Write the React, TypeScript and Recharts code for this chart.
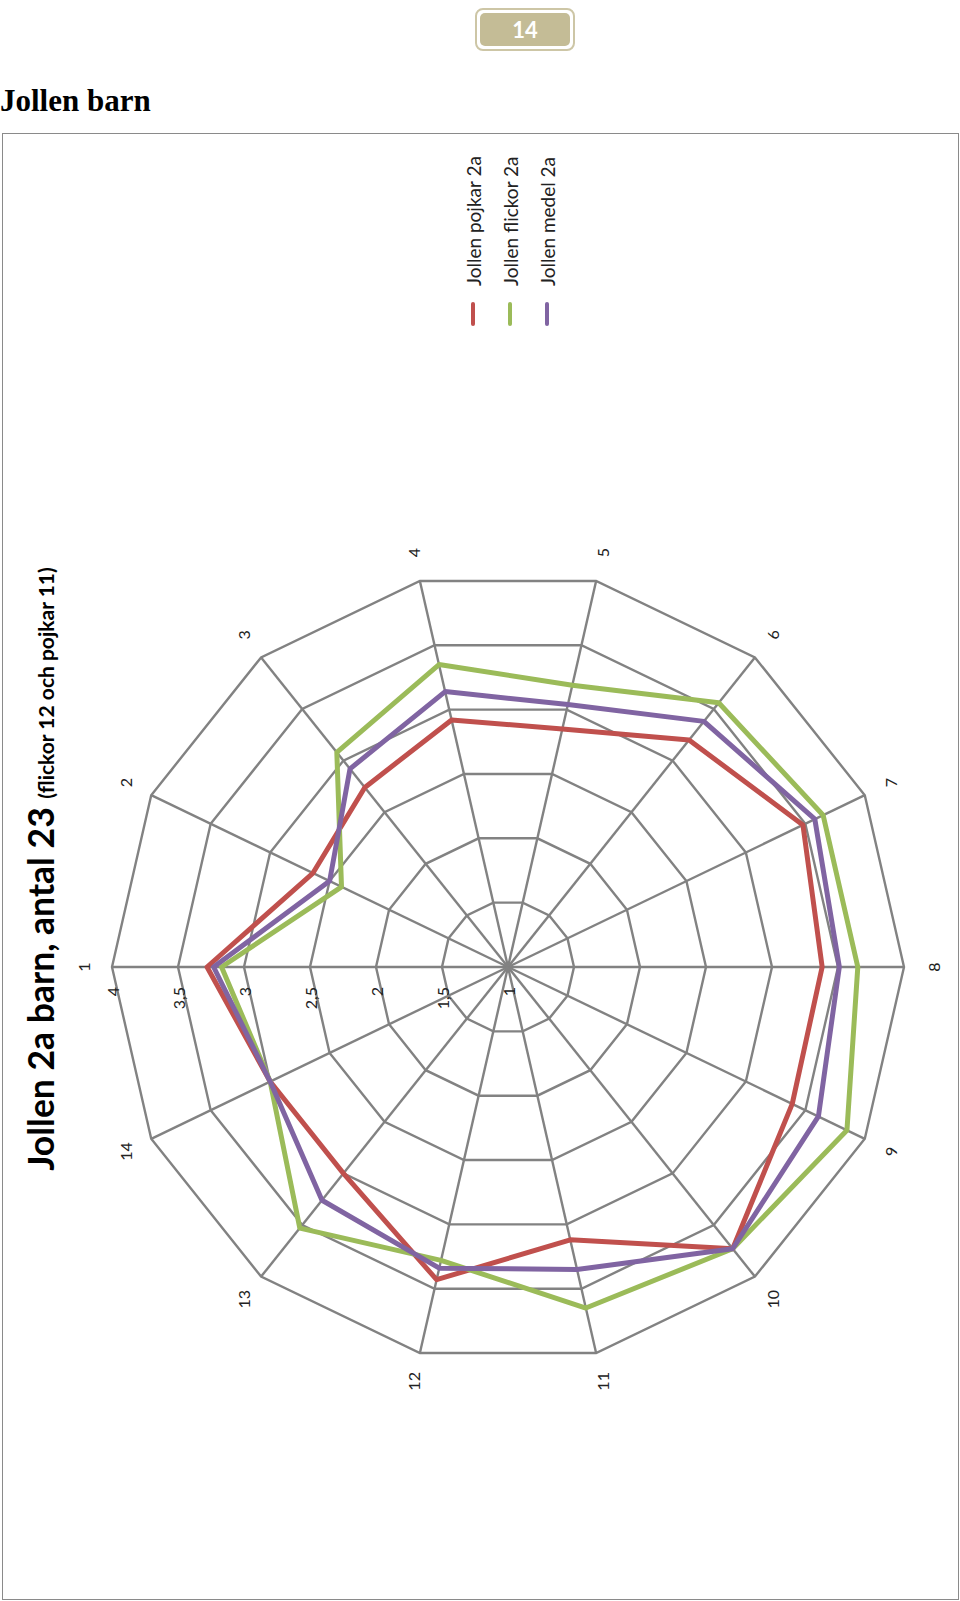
import React from 'react';
import { RadarChart, PolarGrid, PolarAngleAxis, PolarRadiusAxis, Radar } from 'recharts';

const axes = ['1', '2', '3', '4', '5', '6', '7', '8', '9', '10', '11', '12', '13', '14'];
const pojkar = [3.28, 2.64, 2.74, 2.92, 2.85, 3.2, 3.48, 3.38, 3.39, 3.73, 3.12, 3.43, 3.0, 3.0];
const flickor = [3.17, 2.4, 3.08, 3.35, 3.19, 3.56, 3.65, 3.65, 3.85, 3.73, 3.65, 3.28, 3.53, 3.0];
const medel = [3.23, 2.5, 2.92, 3.14, 3.04, 3.38, 3.58, 3.51, 3.61, 3.73, 3.35, 3.34, 3.26, 3.0];
const radiusTicks = [1, 1.5, 2, 2.5, 3, 3.5, 4];

const series = [
  { key: 'pojkar', name: 'Jollen pojkar 2a', color: '#C0504D' },
  { key: 'flickor', name: 'Jollen flickor 2a', color: '#9BBB59' },
  { key: 'medel', name: 'Jollen medel 2a', color: '#8064A2' },
];

const data = axes.map((a, i) => ({
  axis: a,
  pojkar: pojkar[i],
  flickor: flickor[i],
  medel: medel[i],
}));

// chart is drawn upright, then the whole box is turned 90deg counter-clockwise
const W = 1467;
const H = 957;
const CX = 633;
const CY = 506;
const R = 396;
const FONT = 'Lato, "Open Sans", sans-serif';

const AngleTick = (props: any) => {
  const { x, y, payload } = props;
  const dx = x - CX;
  const dy = y - CY;
  const len = Math.sqrt(dx * dx + dy * dy) || 1;
  const r = R + 29;
  return (
    <text
      x={CX + (dx / len) * r}
      y={CY + (dy / len) * r}
      textAnchor="middle"
      dominantBaseline="central"
      fontSize={16}
      fontFamily={FONT}
      fill="#222"
    >
      {payload.value}
    </text>
  );
};

const RadiusTick = (props: any) => {
  const { x, y, payload } = props;
  return (
    <text
      x={x - 20}
      y={y}
      textAnchor="end"
      dominantBaseline="central"
      fontSize={16}
      fontFamily={FONT}
      fill="#222"
    >
      {String(payload.value).replace('.', ',')}
    </text>
  );
};

export default function App() {
  return (
    <div style={{ position: 'absolute', left: 0, top: 0, width: 960, height: 1601, background: '#fff' }}>
      <div
        style={{
          position: 'absolute',
          left: 475,
          top: 8,
          width: 100,
          height: 43,
          boxSizing: 'border-box',
          border: '2px solid #cdc6a6',
          borderRadius: 8,
          padding: 3,
          background: '#fff',
        }}
      >
        <div
          style={{
            width: '100%',
            height: '100%',
            background: '#C4BC96',
            borderRadius: 5,
            color: '#fff',
            fontFamily: FONT,
            fontWeight: 700,
            fontSize: 22,
            lineHeight: '33px',
            textAlign: 'center',
          }}
        >
          14
        </div>
      </div>

      <div
        style={{
          position: 'absolute',
          left: 0,
          top: 86,
          fontFamily: '"Liberation Serif", serif',
          fontWeight: 700,
          fontSize: 31,
          lineHeight: '30px',
          color: '#000',
        }}
      >
        Jollen barn
      </div>

      <div
        style={{
          position: 'absolute',
          left: 2,
          top: 133,
          width: H,
          height: W,
          boxSizing: 'border-box',
          border: '1.5px solid #8a8a8a',
        }}
      >
        <div
          style={{
            position: 'absolute',
            left: -1.5,
            top: -1.5,
            width: W,
            height: H,
            transformOrigin: '0 0',
            transform: `translate(0px, ${W}px) rotate(-90deg)`,
          }}
        >
          <RadarChart
            width={W}
            height={H}
            cx={CX}
            cy={CY}
            outerRadius={R}
            data={data}
            margin={{ top: 0, right: 0, bottom: 0, left: 0 }}
          >
            <PolarGrid gridType="polygon" stroke="#828282" strokeWidth={2.4} strokeOpacity={1} />
            <PolarAngleAxis dataKey="axis" tick={<AngleTick />} axisLine={false} tickLine={false} />
            <PolarRadiusAxis
              angle={90}
              type="number"
              domain={[radiusTicks[0], radiusTicks[radiusTicks.length - 1]]}
              ticks={radiusTicks as any}
              tickCount={radiusTicks.length}
              axisLine={false}
              tick={<RadiusTick />}
            />
            {series.map((s) => (
              <Radar
                key={s.key}
                name={s.name}
                dataKey={s.key}
                stroke={s.color}
                strokeWidth={5}
                strokeLinejoin="round"
                fill="none"
                fillOpacity={0}
                dot={false}
                isAnimationActive={false}
              />
            ))}
          </RadarChart>

          <svg
            width={W}
            height={H}
            style={{ position: 'absolute', left: 0, top: 0, pointerEvents: 'none' }}
          >
            <text x={731} y={52} textAnchor="middle" fontFamily={FONT} fontWeight={700} fill="#000">
              <tspan fontSize={35.5}>Jollen 2a barn, antal 23 </tspan>
              <tspan fontSize={21}>(flickor 12 och pojkar 11)</tspan>
            </text>
            {series.map((s, i) => (
              <g key={s.key}>
                <line
                  x1={1276}
                  y1={471 + i * 37}
                  x2={1296}
                  y2={471 + i * 37}
                  stroke={s.color}
                  strokeWidth={4}
                  strokeLinecap="round"
                />
                <text
                  x={1314}
                  y={471 + i * 37}
                  dominantBaseline="central"
                  fontSize={19}
                  fontFamily={FONT}
                  fill="#222"
                >
                  {s.name}
                </text>
              </g>
            ))}
          </svg>
        </div>
      </div>
    </div>
  );
}
